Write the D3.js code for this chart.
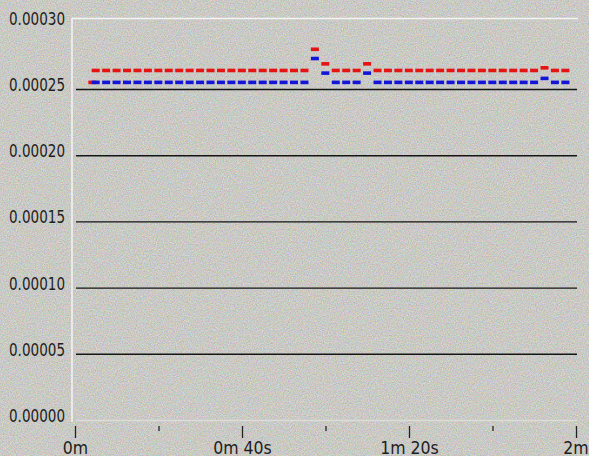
<!DOCTYPE html>
<html>
<head>
<meta charset="utf-8">
<script src="https://cdn.jsdelivr.net/npm/d3@7"></script>
<style>
  html, body { margin: 0; padding: 0; background: #c8c7c1; }
  svg { display: block; }
  text { font-family: "Liberation Sans Narrow", "DejaVu Sans Condensed", "Liberation Sans", sans-serif; fill: #1e1e1e; }
</style>
</head>
<body>
<div id="chart"></div>
<script>
// sample times in seconds
const sampleTimes = [4, 6.5, 9, 11.5, 14, 16.5, 19, 21.5, 24, 26.5, 29, 31.5, 34, 36.5, 39, 41.5,
  44, 46.5, 49, 51.5, 54, 56.5, 59, 61.5, 64, 66.5, 69, 71.5, 74, 76.5, 79, 81.5, 84, 86.5,
  89, 91.5, 94, 96.5, 99, 101.5, 104, 106.5, 109, 111.5, 114, 116.5];

const redValues = [0.000264, 0.000264, 0.000264, 0.000264, 0.000264, 0.000264, 0.000264, 0.000264,
  0.000264, 0.000264, 0.000264, 0.000264, 0.000264, 0.000264, 0.000264, 0.000264, 0.000264,
  0.000264, 0.000264, 0.000264, 0.000264, 0.000280, 0.000269, 0.000264, 0.000264, 0.000264,
  0.000269, 0.000264, 0.000264, 0.000264, 0.000264, 0.000264, 0.000264, 0.000264, 0.000264,
  0.000264, 0.000264, 0.000264, 0.000264, 0.000264, 0.000264, 0.000264, 0.000264, 0.000266,
  0.000264, 0.000264];

const blueValues = [0.000255, 0.000255, 0.000255, 0.000255, 0.000255, 0.000255, 0.000255, 0.000255,
  0.000255, 0.000255, 0.000255, 0.000255, 0.000255, 0.000255, 0.000255, 0.000255, 0.000255,
  0.000255, 0.000255, 0.000255, 0.000255, 0.000273, 0.000262, 0.000255, 0.000255, 0.000255,
  0.000262, 0.000255, 0.000255, 0.000255, 0.000255, 0.000255, 0.000255, 0.000255, 0.000255,
  0.000255, 0.000255, 0.000255, 0.000255, 0.000255, 0.000255, 0.000255, 0.000255, 0.000258,
  0.000255, 0.000255];

// red has one extra early sample before blue starts
const redStartTime = 3.2;
const redStartValue = 0.000255;

const yTicks = [0, 0.00005, 0.00010, 0.00015, 0.00020, 0.00025, 0.00030];
const xMajorTicks = [0, 40, 80, 120];
const xMinorTicks = [20, 60, 100];
const xTickLabels = ["0m", "0m 40s", "1m 20s", "2m"];

const width = 589, height = 456;

let svg = d3.select("#chart").append("svg")
  .attr("width", width)
  .attr("height", height);

// granite-ish background
let defs = svg.append("defs");
let grain = defs.append("filter").attr("id", "grain")
  .attr("color-interpolation-filters", "sRGB")
  .attr("x", 0).attr("y", 0).attr("width", "100%").attr("height", "100%");
grain.append("feTurbulence")
  .attr("type", "fractalNoise")
  .attr("baseFrequency", 0.85)
  .attr("numOctaves", 2)
  .attr("seed", 4);
grain.append("feColorMatrix")
  .attr("type", "matrix")
  .attr("values", "0.36 0 0 0 0.61  0 0.30 0 0 0.64  0 0 0.40 0 0.57  0 0 0 0 1");

svg.append("rect")
  .attr("width", width).attr("height", height)
  .attr("filter", "url(#grain)");

// scales
let x = d3.scaleLinear().domain([0, 120]).range([75, 576]);
let y = d3.scaleLinear().domain([0, 0.00025]).range([420, 89]);

// white frame (top and left)
svg.append("line")
  .attr("x1", 72).attr("x2", 578).attr("y1", 18.5).attr("y2", 18.5)
  .attr("stroke", "#f4f4f4").attr("stroke-width", 1.5);
svg.append("line")
  .attr("x1", 72).attr("x2", 72).attr("y1", 18).attr("y2", 422)
  .attr("stroke", "#f4f4f4").attr("stroke-width", 1.5);

// gridlines + y labels
let yAxis = svg.append("g")
  .attr("transform", "translate(76,0)")
  .call(d3.axisLeft(y)
    .tickValues(yTicks)
    .tickSize(-(577 - 76))
    .tickPadding(11)
    .tickFormat(d3.format(".5f")));
yAxis.select(".domain").remove();
yAxis.selectAll(".tick line")
  .attr("stroke", d => d === 0 ? "#dcdcd8" : (d >= 0.0003 ? "none" : "#151515"))
  .attr("stroke-width", 1.4);
yAxis.selectAll(".tick text")
  .attr("dy", 0)
  .attr("y", 1.5)
  .attr("font-size", 18.5)
  .attr("textLength", 56)
  .attr("lengthAdjust", "spacingAndGlyphs")
  .style("fill", "#1e1e1e");

// x ticks
let xAxis = svg.append("g")
  .attr("transform", "translate(0,426)")
  .call(d3.axisBottom(x)
    .tickValues(xMajorTicks)
    .tickSize(12)
    .tickFormat((d, i) => xTickLabels[i]));
xAxis.select(".domain").remove();
xAxis.selectAll(".tick line").attr("stroke", "#222").attr("stroke-width", 1.3);
xAxis.selectAll(".tick text")
  .attr("dy", 0)
  .attr("y", 28)
  .attr("font-size", 17.5)
  .style("fill", "#1e1e1e");
// last label hugs the right edge
xAxis.selectAll(".tick text").filter((d, i) => i === xMajorTicks.length - 1)
  .attr("text-anchor", "end")
  .attr("x", 12);

let xMinor = svg.append("g")
  .attr("transform", "translate(0,426)")
  .call(d3.axisBottom(x).tickValues(xMinorTicks).tickSize(5).tickFormat(""));
xMinor.select(".domain").remove();
xMinor.selectAll(".tick line").attr("stroke", "#222").attr("stroke-width", 1.3);

// series markers
function addMarkers(times, values, color) {
  svg.append("g")
    .selectAll("rect")
    .data(times.map((t, i) => ({ t: t, v: values[i] })))
    .join("rect")
    .attr("x", d => x(d.t))
    .attr("y", d => y(d.v) - 1.8)
    .attr("width", 8)
    .attr("height", 3.6)
    .attr("fill", color);
}

addMarkers([redStartTime].concat(sampleTimes), [redStartValue].concat(redValues), "#e41414");
addMarkers(sampleTimes, blueValues, "#1414d8");
</script>
</body>
</html>
